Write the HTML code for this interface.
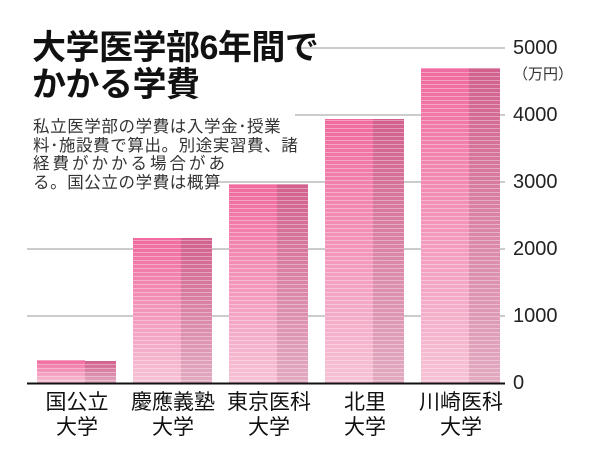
<!DOCTYPE html><html><head><meta charset="utf-8"><style>
body{margin:0;background:#fff;width:600px;height:461px;overflow:hidden;position:relative;font-family:"Liberation Sans","Noto Sans CJK JP",sans-serif}
.t{position:absolute;left:32px;font-weight:bold;font-size:34px;color:#111;letter-spacing:-0.5px;line-height:36px}
.n{position:absolute;left:33px;top:118px;font-size:16.5px;line-height:18.5px;letter-spacing:0.6px;color:#333}
.y{position:absolute;left:513px;font-size:20px;color:#222}
.x{position:absolute;top:390px;width:110px;text-align:center;font-size:21px;line-height:25px;color:#111}
</style></head><body>
<svg width="600" height="461" style="position:absolute;left:0;top:0">
<defs>
<linearGradient id="g1" x1="0" y1="0" x2="0" y2="1"><stop offset="0" stop-color="#f06ba0"/><stop offset="1" stop-color="#f6c2d6"/></linearGradient>
<linearGradient id="g2" x1="0" y1="0" x2="0" y2="1"><stop offset="0" stop-color="#d2608e"/><stop offset="1" stop-color="#e2aac0"/></linearGradient>
<pattern id="st" width="4" height="4" patternUnits="userSpaceOnUse"><rect width="4" height="1" fill="#fff" opacity="0.35"/></pattern>
</defs>
<g stroke="#bbb" stroke-width="1.5">
<line x1="295" y1="48" x2="505" y2="48"/>
<line x1="295" y1="115" x2="505" y2="115"/>
<line x1="218" y1="182" x2="505" y2="182"/>
<line x1="27" y1="249" x2="505" y2="249"/>
<line x1="27" y1="316" x2="505" y2="316"/>
</g>
<g>
<rect x="37" y="360" width="48" height="23" fill="url(#g1)"/><rect x="85" y="361" width="31" height="22" fill="url(#g2)"/>
<rect x="133" y="238" width="48" height="145" fill="url(#g1)"/><rect x="181" y="238" width="31" height="145" fill="url(#g2)"/>
<rect x="229" y="184" width="48" height="199" fill="url(#g1)"/><rect x="277" y="184" width="31" height="199" fill="url(#g2)"/>
<rect x="325" y="119" width="48" height="264" fill="url(#g1)"/><rect x="373" y="119" width="31" height="264" fill="url(#g2)"/>
<rect x="421" y="68" width="48" height="315" fill="url(#g1)"/><rect x="469" y="68" width="31" height="315" fill="url(#g2)"/>
<rect x="37" y="360" width="79" height="23" fill="url(#st)"/>
<rect x="133" y="238" width="79" height="145" fill="url(#st)"/>
<rect x="229" y="184" width="79" height="199" fill="url(#st)"/>
<rect x="325" y="119" width="79" height="264" fill="url(#st)"/>
<rect x="421" y="68" width="79" height="315" fill="url(#st)"/>
</g>
<line x1="27" y1="383.5" x2="505" y2="383.5" stroke="#111" stroke-width="2"/>
</svg>
<div class="t" style="top:30px">大学医学部6年間で</div>
<div class="t" style="top:67px">かかる学費</div>
<div class="n">私立医学部の学費は入学金･授業<br>料･施設費で算出。別途実習費、諸<br><span style="letter-spacing:3px">経費がかかる場合があ</span><br>る。国公立の学費は概算</div>
<div class="y" style="top:37px">5000</div>
<div class="y" style="top:63px;font-size:15px;color:#333">（万円）</div>
<div class="y" style="top:104px">4000</div>
<div class="y" style="top:171px">3000</div>
<div class="y" style="top:238px">2000</div>
<div class="y" style="top:305px">1000</div>
<div class="y" style="top:372px">0</div>
<div class="x" style="left:22px">国公立<br>大学</div>
<div class="x" style="left:118px">慶應義塾<br>大学</div>
<div class="x" style="left:214px">東京医科<br>大学</div>
<div class="x" style="left:310px">北里<br>大学</div>
<div class="x" style="left:406px">川崎医科<br>大学</div>
</body></html>
